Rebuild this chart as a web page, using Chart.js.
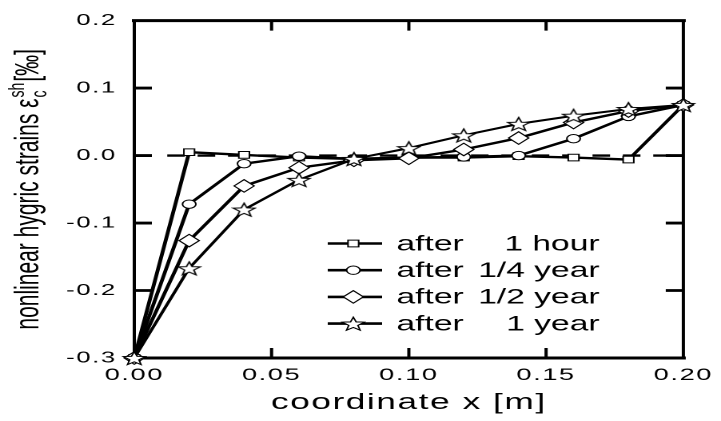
<!DOCTYPE html>
<html>
<head>
<meta charset="utf-8">
<script src="https://cdn.jsdelivr.net/npm/chart.js@4.4.1/dist/chart.umd.min.js"></script>
<style>
    html, body { margin: 0; padding: 0; background: #fff; overflow: hidden; }
    /* the original figure is stretched sideways, so draw narrow and scale up */
    #wrap { width: 451px; height: 421px; transform: scaleX(1.59867); transform-origin: 0 0; }
</style>
</head>
<body>
<div id="wrap"><canvas id="chart" width="451" height="421"></canvas></div>
<script>
(function () {
    "use strict";

    var FONT = "'Liberation Sans', Arial, sans-serif";

    // data
    var xValues = [0, 0.02, 0.04, 0.06, 0.08, 0.10, 0.12, 0.14, 0.16, 0.18, 0.20];
    var hour1  = [-0.3, 0.005, 0.001, -0.003, -0.005, -0.003, -0.003, -0.001, -0.003, -0.006, 0.075];
    var year14 = [-0.3, -0.072, -0.012, -0.001, -0.005, -0.003, -0.002, 0.000, 0.025, 0.058, 0.075];
    var year12 = [-0.3, -0.126, -0.045, -0.018, -0.007, -0.004, 0.009, 0.026, 0.049, 0.066, 0.075];
    var year1  = [-0.3, -0.167, -0.080, -0.036, -0.005, 0.011, 0.030, 0.047, 0.059, 0.069, 0.075];
    var zeroLineX = [0.012, 0.20];
    var seriesLabels = ["after 1 hour", "after 1/4 year", "after 1/2 year", "after 1 year"];
    var xTickValues = [0, 0.05, 0.10, 0.15, 0.20];
    var yTickValues = [-0.3, -0.2, -0.1, 0.0, 0.1, 0.2];


    // 5 point star used as point style
    function starPath(ctx, cx, cy, r) {
        ctx.beginPath();
        for (var i = 0; i < 10; i++) {
            var rr = i % 2 === 0 ? r : r * 0.42;
            var a = -Math.PI / 2 + i * Math.PI / 5;
            var px = cx + Math.cos(a) * rr, py = cy + Math.sin(a) * rr;
            if (i === 0) ctx.moveTo(px, py); else ctx.lineTo(px, py);
        }
        ctx.closePath();
    }
    // drawn at 4x, shown at 16px so it stays sharp after the scaling
    var starCanvas = document.createElement("canvas");
    starCanvas.width = 64;
    starCanvas.height = 64;
    (function () {
        var c = starCanvas.getContext("2d");
        c.scale(4, 4);
        starPath(c, 8, 8.8, 7.2);
        c.fillStyle = "#fff";
        c.fill();
        c.lineWidth = 1;
        c.strokeStyle = "#000";
        c.stroke();
    })();
    var starImg = new Image(16, 16);

    function drawMarker(ctx, style, r, x, y) {
        if (style === starImg) {
            ctx.drawImage(starCanvas, x - 8, y - 8, 16, 16);
            return;
        }
        ctx.beginPath();
        if (style === "rect") {
            var s = r * Math.SQRT1_2;
            ctx.rect(x - s, y - s, 2 * s, 2 * s);
        } else if (style === "rectRot") {
            ctx.moveTo(x - r, y);
            ctx.lineTo(x, y - r);
            ctx.lineTo(x + r, y);
            ctx.lineTo(x, y + r);
            ctx.closePath();
        } else {
            ctx.arc(x, y, r, 0, Math.PI * 2);
        }
        ctx.fillStyle = "#fff";
        ctx.fill();
        ctx.lineWidth = 1;
        ctx.strokeStyle = "#000";
        ctx.stroke();
    }

    function pts(vals) {
        return xValues.map(function (x, i) { return {x: x, y: vals[i]}; });
    }

    function series(label, vals, style, r, order) {
        return {
            label: label,
            data: pts(vals),
            borderColor: "#000",
            borderWidth: 2.4,
            pointStyle: style,
            pointRadius: r,
            pointBackgroundColor: "#fff",
            pointBorderColor: "#000",
            pointBorderWidth: 1,
            tension: 0,
            clip: false,
            order: order
        };
    }


    // letter spacing for tick labels and the x title
    var spacing = {
        id: "spacing",
        beforeDraw: function (chart) { chart.ctx.letterSpacing = "1px"; },
        afterDraw: function (chart) { chart.ctx.letterSpacing = "0px"; }
    };


    // boxed frame with inward ticks
    var frame = {
        id: "frame",
        beforeDatasetsDraw: function (chart) {
            var ctx = chart.ctx, a = chart.chartArea;
            var xs = chart.scales.x, ys = chart.scales.y;
            ctx.save();
            ctx.strokeStyle = "#000";
            ctx.lineCap = "square";
            ctx.lineWidth = 3;
            ctx.beginPath();
            ctx.moveTo(a.left, a.top); ctx.lineTo(a.right, a.top);
            ctx.moveTo(a.left, a.bottom); ctx.lineTo(a.right, a.bottom);
            ctx.stroke();
            ctx.lineWidth = 2;
            ctx.beginPath();
            ctx.moveTo(a.left, a.top); ctx.lineTo(a.left, a.bottom);
            ctx.moveTo(a.right, a.top); ctx.lineTo(a.right, a.bottom);
            ctx.stroke();

            ctx.lineCap = "butt";
            ctx.lineWidth = 2;
            xs.ticks.forEach(function (t) {
                if (t.value <= xs.min || t.value >= xs.max) return;
                var px = xs.getPixelForValue(t.value);
                ctx.beginPath();
                ctx.moveTo(px, a.top); ctx.lineTo(px, a.top + 10);
                ctx.moveTo(px, a.bottom); ctx.lineTo(px, a.bottom - 10);
                ctx.stroke();
            });
            ctx.lineWidth = 2.8;
            ys.ticks.forEach(function (t) {
                if (t.value <= ys.min || t.value >= ys.max) return;
                var py = ys.getPixelForValue(t.value);
                ctx.beginPath();
                ctx.moveTo(a.left, py); ctx.lineTo(a.left + 11, py);
                ctx.moveTo(a.right, py); ctx.lineTo(a.right - 11, py);
                ctx.stroke();
            });
            ctx.restore();
        }
    };


    // legend inside the plot
    var insideLegend = {
        id: "insideLegend",
        afterDraw: function (chart) {
            var ctx = chart.ctx;
            ctx.save();
            ctx.letterSpacing = "0px";
            var rows = chart.data.datasets.filter(function (d) { return d.inLegend !== false; });
            rows.forEach(function (d, i) {
                var y = 243.5 + i * 26.7;
                ctx.strokeStyle = "#000";
                ctx.lineWidth = 2.6;
                ctx.beginPath();
                ctx.moveTo(205, y); ctx.lineTo(239, y);
                ctx.stroke();
                drawMarker(ctx, d.pointStyle, d.pointRadius, 221, y);
                var cut = d.label.indexOf(" ");
                ctx.font = "21px " + FONT;
                ctx.fillStyle = "#000";
                ctx.textBaseline = "middle";
                ctx.textAlign = "left";
                ctx.fillText(d.label.slice(0, cut), 248, y + 1);
                ctx.textAlign = "right";
                ctx.fillText(d.label.slice(cut + 1), 375, y + 1);
            });
            ctx.restore();
        }
    };


    // rotated y title with sub and superscript
    var yTitle = {
        id: "yTitle",
        afterDraw: function (chart) {
            var ctx = chart.ctx, a = chart.chartArea;
            var main = "nonlinear hygric strains \u03b5", tail = "[\u2030]";
            ctx.save();
            ctx.letterSpacing = "0px";
            ctx.fillStyle = "#000";
            ctx.textBaseline = "alphabetic";
            ctx.textAlign = "left";
            ctx.font = "21px " + FONT;
            var wMain = ctx.measureText(main).width;
            var wTail = ctx.measureText(tail).width;
            ctx.font = "14px " + FONT;
            var wSup = ctx.measureText("sh").width;
            var wSub = ctx.measureText("c").width;
            var wScript = Math.max(wSup, wSub) + 2;
            var total = wMain + wScript + wTail;

            ctx.translate(24, (a.top + a.bottom) / 2);
            ctx.rotate(-Math.PI / 2);
            var x = -total / 2;
            ctx.font = "21px " + FONT;
            ctx.fillText(main, x, 0);
            x += wMain;
            ctx.font = "14px " + FONT;
            ctx.fillText("sh", x + 1, -9);
            ctx.fillText("c", x + 1, 5);
            x += wScript;
            ctx.font = "21px " + FONT;
            ctx.fillText(tail, x, 0);
            ctx.restore();
        }
    };


    function build() {
        var ds = [
            series(seriesLabels[0], hour1, "rect", 4.7, 4),
            series(seriesLabels[1], year14, "circle", 4.2, 3),
            series(seriesLabels[2], year12, "rectRot", 6.3, 2),
            series(seriesLabels[3], year1, starImg, 8, 1),
            {
                label: "zero",
                inLegend: false,
                data: zeroLineX.map(function (x) { return {x: x, y: 0}; }),
                borderColor: "#000",
                borderWidth: 2.4,
                borderDash: [11, 8],
                pointRadius: 0,
                clip: false,
                order: 10
            }
        ];
        ds[3].borderWidth = 2.1;

        new Chart(document.getElementById("chart"), {
            type: "line",
            data: { datasets: ds },
            options: {
                responsive: false,
                devicePixelRatio: 2,
                animation: false,
                layout: { padding: { top: 19, right: 21, left: 0, bottom: 0 } },
                plugins: {
                    legend: { display: false },
                    tooltip: { enabled: false }
                },
                scales: {
                    x: {
                        type: "linear",
                        min: 0,
                        max: 0.2,
                        afterBuildTicks: function (s) { s.ticks = xTickValues.map(function (v) { return {value: v}; }); },
                        afterFit: function (s) { s.height = 63; },
                        grid: { display: false, drawTicks: false },
                        border: { display: false },
                        ticks: {
                            autoSkip: false,
                            maxRotation: 0,
                            padding: 7,
                            color: "#000",
                            font: { family: FONT, size: 17 },
                            callback: function (v) { return Number(v).toFixed(2); }
                        },
                        title: {
                            display: true,
                            text: "coordinate x [m]",
                            color: "#000",
                            font: { family: FONT, size: 22 },
                            padding: { top: 0, bottom: 5 }
                        }
                    },
                    y: {
                        type: "linear",
                        min: -0.3,
                        max: 0.2,
                        afterBuildTicks: function (s) { s.ticks = yTickValues.map(function (v) { return {value: v}; }); },
                        afterFit: function (s) { s.width = 84; },
                        grid: { display: false, drawTicks: false },
                        border: { display: false },
                        ticks: {
                            autoSkip: false,
                            padding: 11,
                            color: "#000",
                            font: { family: FONT, size: 16 },
                            callback: function (v) { return Math.abs(v) < 1e-9 ? "0.0" : Number(v).toFixed(1); }
                        }
                    }
                }
            },
            plugins: [spacing, frame, insideLegend, yTitle]
        });
    }

    starImg.onload = build;
    starImg.src = starCanvas.toDataURL();

})();
</script>
</body>
</html>
